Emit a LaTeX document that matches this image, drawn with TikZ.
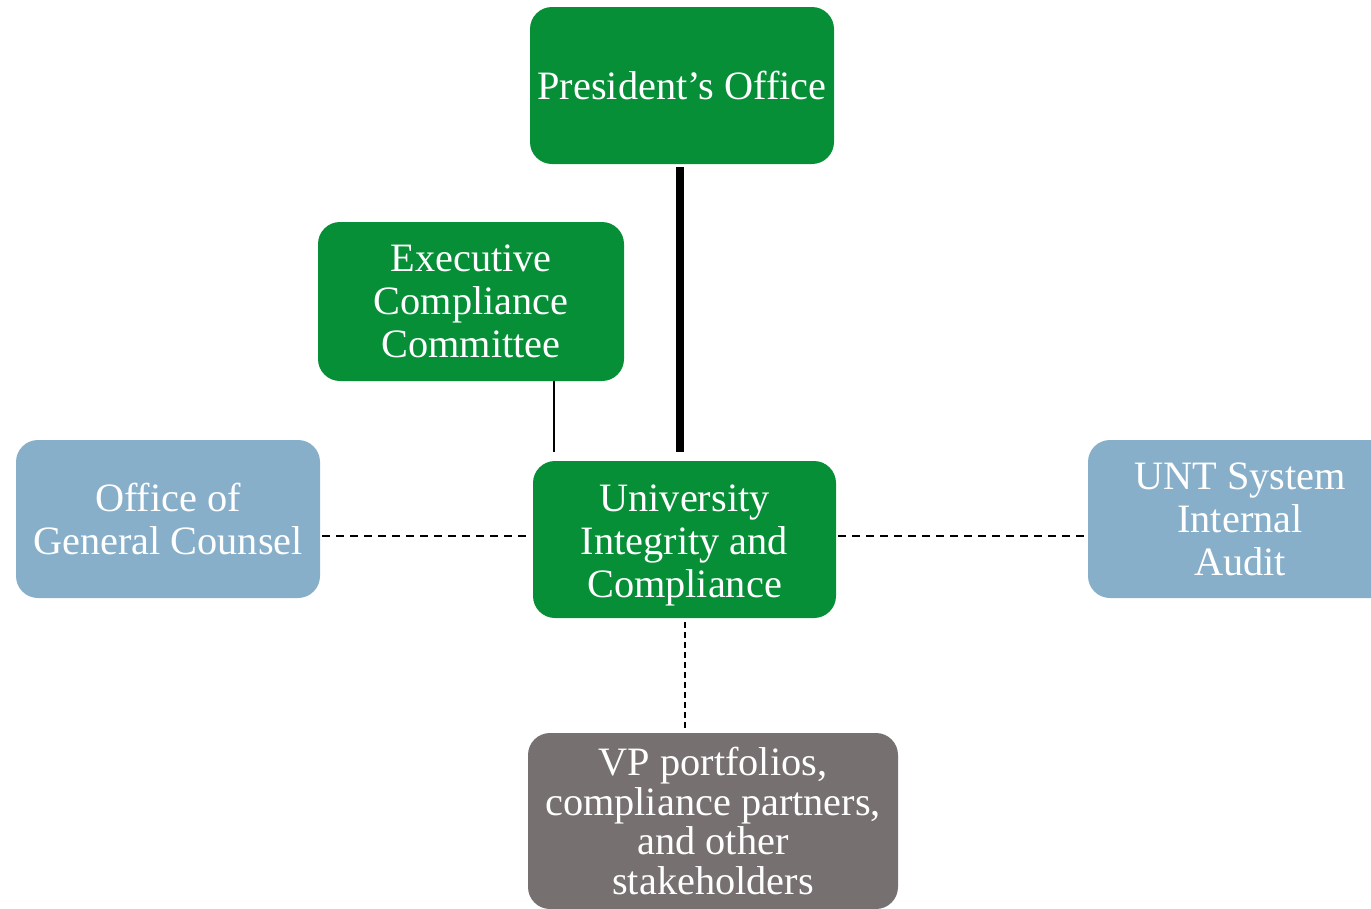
\documentclass[tikz,border=0pt]{standalone}
\usepackage{fontspec}
\setmainfont{Liberation Serif}
\definecolor{boxgreen}{HTML}{078F37}
\definecolor{boxblue}{HTML}{88AFC9}
\definecolor{boxgray}{HTML}{767170}
\newcommand{\movetextdown}[2]{\raisebox{-#1}[\height][\depth]{\begin{tabular}{@{}c@{}}#2\end{tabular}}}
\tikzset{
  orgbox/.style={rectangle, rounded corners=22pt, inner sep=0pt, text=white,
    align=center, font=\fontsize{40.3}{43}\selectfont},
  greenbox/.style={orgbox, fill=boxgreen},
  bluebox/.style={orgbox, fill=boxblue},
  graybox/.style={orgbox, fill=boxgray, font=\fontsize{40.3}{39.5}\selectfont},
  heavyline/.style={line width=8pt},
  thinline/.style={line width=2pt},
  dashline/.style={line width=2pt, dash pattern=on 8pt off 6pt},
  vdashline/.style={line width=2pt, dash pattern=on 6pt off 4pt},
}
\begin{document}
\begin{tikzpicture}[x=1pt,y=-1pt]
\useasboundingbox (0,0) rectangle (1371,908);
\clip (0,0) rectangle (1371,908);
\node[greenbox, minimum width=304pt, minimum height=157pt] (pres) at (682,85.5) {President’s Office};
\node[greenbox, minimum width=306pt, minimum height=159pt] (exec) at (471,301.5) {Executive\\Compliance\\Committee};
\node[bluebox, minimum width=304pt, minimum height=158pt] (ogc) at (168,519) {Office of\\General Counsel};
\node[greenbox, minimum width=303pt, minimum height=157pt] (uic) at (684.5,539.5) {\movetextdown{6pt}{University\\Integrity and\\Compliance}};
\node[bluebox, minimum width=304pt, minimum height=158pt] (unt) at (1240,519) {UNT System\\Internal\\Audit};
\node[graybox, minimum width=370pt, minimum height=176pt] (vp) at (713,821) {VP portfolios,\\compliance partners,\\and other\\stakeholders};
% connectors
\draw[heavyline, shorten <=3pt, shorten >=9pt] ([xshift=-2pt]pres.south) -- ([xshift=-2pt]pres.south |- uic.north);
\draw[thinline, shorten >=9pt] ([xshift=83pt]exec.south) -- ([xshift=83pt]exec.south |- uic.north);
\draw[dashline] ([xshift=2pt]ogc.east |- {(0,536)}) -- ([xshift=-5pt]uic.west |- {(0,536)});
\draw[dashline] ([xshift=2pt]uic.east |- {(0,536)}) -- ([xshift=-3pt]unt.west |- {(0,536)});
\draw[vdashline, shorten <=4pt, shorten >=3pt] ([xshift=0.5pt]uic.south) -- ([xshift=0.5pt]uic.south |- vp.north);
\end{tikzpicture}
\end{document}
